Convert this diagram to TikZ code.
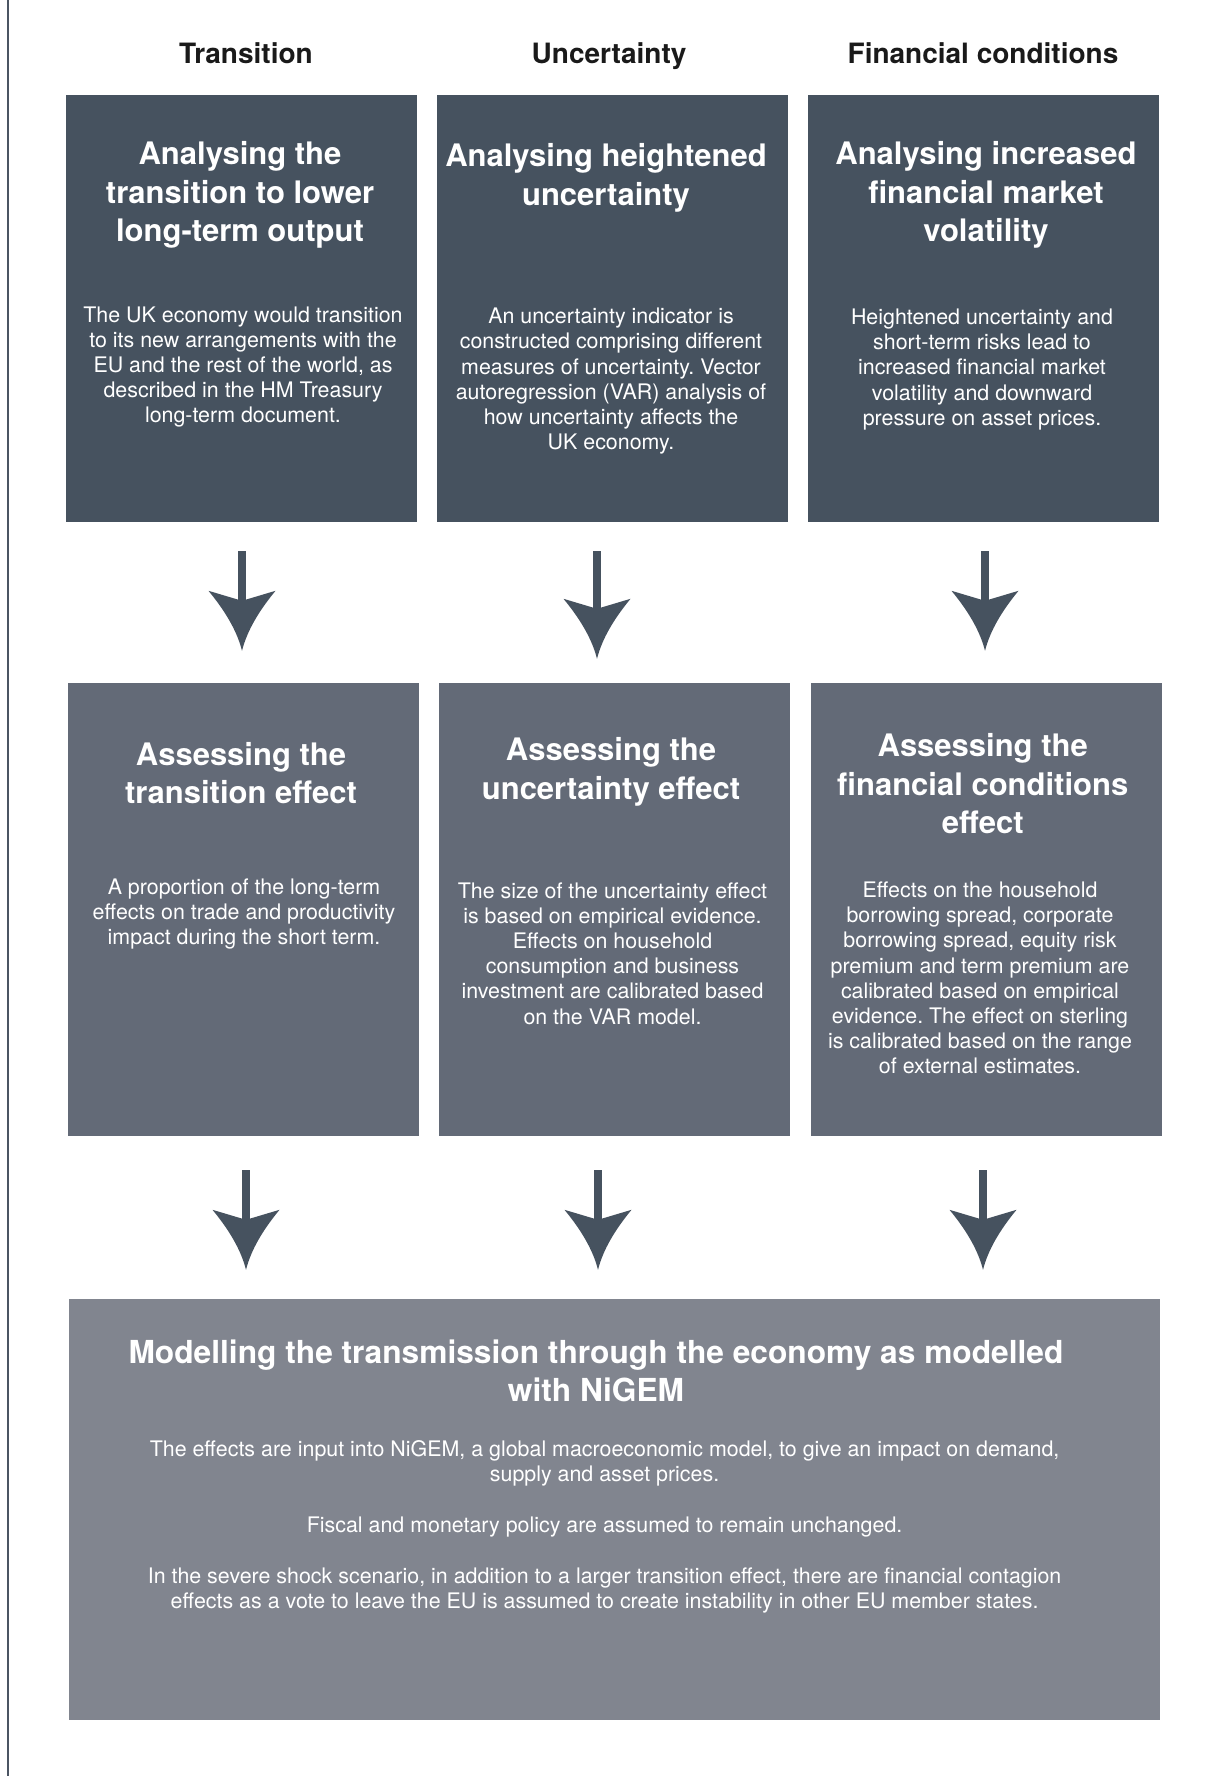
\documentclass[tikz,border=0pt]{standalone}
\usepackage{fontspec}
\setmainfont{TeX Gyre Heros}
\usetikzlibrary{arrows.meta}
\definecolor{topc}{HTML}{46525F}
\definecolor{midc}{HTML}{636A77}
\definecolor{botc}{HTML}{81858F}
\definecolor{linec}{HTML}{4B5563}
\definecolor{headc}{HTML}{1A1A1A}
\frenchspacing
\pgfdeclarearrow{
  name=Swept,
  setup code={
    \pgfarrowssettipend{0pt}
    \pgfarrowssetlineend{-47pt}
    \pgfarrowssetvisualbackend{-50pt}
    \pgfarrowssetbackend{-60pt}
    \pgfarrowshullpoint{0pt}{0pt}
    \pgfarrowsupperhullpoint{-60pt}{33.5pt}
  },
  drawing code={
    \pgfpathmoveto{\pgfpointorigin}
    \pgfpathcurveto{\pgfpoint{-20pt}{5pt}}{\pgfpoint{-40pt}{17pt}}{\pgfpoint{-60pt}{33.5pt}}
    \pgfpathlineto{\pgfpoint{-50pt}{0pt}}
    \pgfpathlineto{\pgfpoint{-60pt}{-33.5pt}}
    \pgfpathcurveto{\pgfpoint{-40pt}{-17pt}}{\pgfpoint{-20pt}{-5pt}}{\pgfpointorigin}
    \pgfpathclose
    \pgfusepathqfill
  }
}
\begin{document}
\begin{tikzpicture}[x=1pt,y=-1pt,
  box/.style={draw=none, inner sep=0pt, minimum width=351pt},
  colhead/.style={font=\fontsize{28}{33}\selectfont\bfseries, text=headc, inner sep=0pt, anchor=base},
  ttl/.style={font=\fontsize{31}{38.5}\selectfont\bfseries, text=white, align=center, inner sep=0pt},
  bdy/.style={font=\fontsize{21.4}{25.2}\selectfont, text=white, align=center, inner sep=0pt},
  flow/.style={color=topc, line width=8pt, -Swept}]
\useasboundingbox (0,0) rectangle (1216,1776);
\fill[white] (0,0) rectangle (1216,1776);
\draw[linec, line width=2pt] (8,0) -- (8,1776);

% column headers
\node[colhead] (h1) at (246,64) {Transition};
\node[colhead] (h2) at (609,64) {Uncertainty};
\node[colhead] (h3) at (983,64) {Financial conditions};

% top boxes
\node[box, fill=topc, minimum height=427pt] (t1) at (241.5,308.5) {};
\node[box, fill=topc, minimum height=427pt] (t2) at (612.5,308.5) {};
\node[box, fill=topc, minimum height=427pt] (t3) at (983.5,308.5) {};

% middle boxes
\node[box, fill=midc, minimum height=453pt] (m1) at (243.5,909.5) {};
\node[box, fill=midc, minimum height=453pt] (m2) at (614.5,909.5) {};
\node[box, fill=midc, minimum height=453pt] (m3) at (986.5,909.5) {};

% bottom box
\node[box, fill=botc, minimum width=1091pt, minimum height=421pt] (b) at (614.5,1509.5) {};

% top texts
\node[ttl] (t1t) at (240,195) {Analysing the\\transition to lower\\long-term output};
\node[bdy] (t1b) at (243,367) {The UK economy would transition\\to its new arrangements with the\\EU and the rest of the world, as\\described in the HM Treasury\\long-term document.};
\node[ttl] (t2t) at (606,178) {Analysing heightened\\uncertainty};
\node[bdy] (t2b) at (611,381.3) {An uncertainty indicator is\\constructed comprising different\\measures of uncertainty. Vector\\autoregression (VAR) analysis of\\how uncertainty affects the\\UK economy.};
\node[ttl] (t3t) at (986,195) {Analysing increased\\financial market\\volatility};
\node[bdy] (t3b) at (982,369.4) {Heightened uncertainty and\\short-term risks lead to\\increased financial market\\volatility and downward\\pressure on asset prices.};

% middle texts
\node[ttl] (m1t) at (241,773) {Assessing the\\transition effect};
\node[bdy] (m1b) at (244,914) {A proportion of the long-term\\effects on trade and productivity\\impact during the short term.};
\node[ttl] (m2t) at (611,771.8) {Assessing the\\uncertainty effect};
\node[bdy] (m2b) at (612.5,953.5) {The size of the uncertainty effect\\is based on empirical evidence.\\Effects on household\\consumption and business\\investment are calibrated based\\on the VAR model.};
\node[ttl] (m3t) at (982.7,783.8) {Assessing the\\financial conditions\\effect};
\node[bdy] (m3b) at (980,978) {Effects on the household\\borrowing spread, corporate\\borrowing spread, equity risk\\premium and term premium are\\calibrated based on empirical\\evidence. The effect on sterling\\is calibrated based on the range\\of external estimates.};

% bottom texts
\node[ttl, font=\fontsize{31.7}{37.5}\selectfont\bfseries] (bt) at (596,1371) {Modelling the transmission through the economy as modelled\\with NiGEM};
\node[bdy] (bb1) at (604.6,1463.7) {The effects are input into NiGEM, a global macroeconomic model, to give an impact on demand,\\supply and asset prices.};
\node[bdy] (bb2) at (604.6,1527) {Fiscal and monetary policy are assumed to remain unchanged.};
\node[bdy] (bb3) at (604.6,1590.5) {In the severe shock scenario, in addition to a larger transition effect, there are financial contagion\\effects as a vote to leave the EU is assumed to create instability in other EU member states.};

% arrows row 1
\draw[flow] ([xshift=0.5pt,yshift=-29pt]t1.south) -- ([xshift=-1.5pt,yshift=32pt]m1.north);
\draw[flow] ([xshift=-15.5pt,yshift=-29pt]t2.south) -- ([xshift=-17.5pt,yshift=24pt]m2.north);
\draw[flow] ([xshift=1.5pt,yshift=-29pt]t3.south) -- ([xshift=-1.5pt,yshift=32pt]m3.north);
% arrows row 2
\draw[flow] ([xshift=2.5pt,yshift=-34pt]m1.south) -- ([xshift=-368.5pt,yshift=29pt]b.north);
\draw[flow] ([xshift=-16.5pt,yshift=-34pt]m2.south) -- ([xshift=-16.5pt,yshift=29pt]b.north);
\draw[flow] ([xshift=-3.5pt,yshift=-34pt]m3.south) -- ([xshift=368.5pt,yshift=29pt]b.north);
\end{tikzpicture}
\end{document}
